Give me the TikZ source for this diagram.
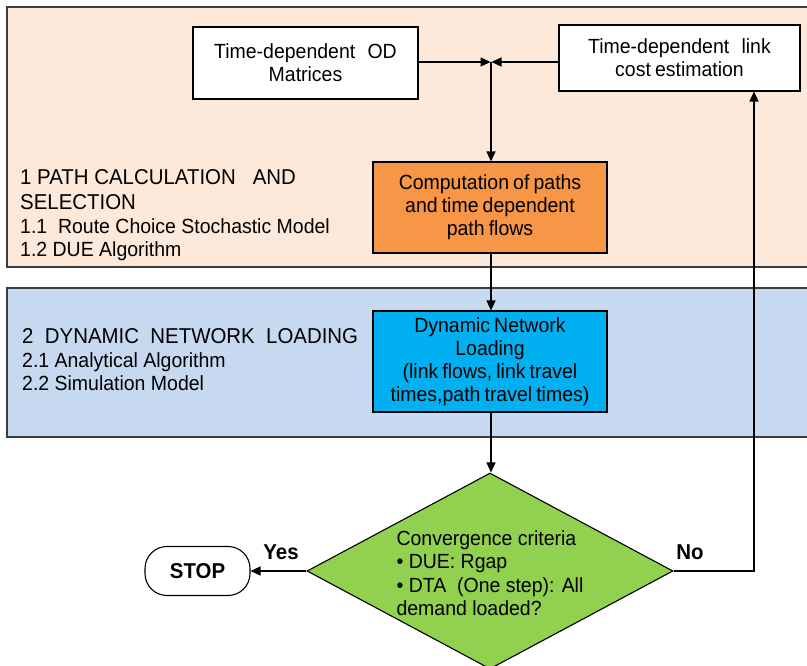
\documentclass[tikz,border=0pt]{standalone}
\usepackage{fontspec}
\setmainfont{Liberation Sans}[FakeStretch=0.95]
\usetikzlibrary{arrows.meta,shapes.geometric}

\definecolor{peach}{HTML}{FDE9D9}
\definecolor{paleblue}{HTML}{C6D9F1}
\definecolor{boxorange}{HTML}{F79646}
\definecolor{boxblue}{HTML}{00B0F0}
\definecolor{boxgreen}{HTML}{92D050}
\definecolor{frame}{HTML}{3C3C3C}

% text sizes: box labels (tight word spacing), captions, sub-items
\newcommand\boxsize{\fontsize{20.5}{23}\selectfont\spaceskip=0.2em plus 0.05em\relax}
\newcommand\headsize{\fontsize{21.5}{24}\selectfont}
\newcommand\subsize{\fontsize{20.5}{23.5}\selectfont}

\begin{document}
\begin{tikzpicture}[x=1pt,y=-1pt,
  panelbox/.style={draw=frame,line width=1.4pt},
  procbox/.style={draw=black,line width=1.1pt,align=center,font=\boxsize,inner sep=0pt},
  flow/.style={draw=black,line width=1.3pt,-{Triangle[length=10pt,width=9pt]}},
  caption/.style={anchor=base west,inner sep=0pt}]

\clip (0,0) rectangle (807,666);
\fill[white] (0,0) rectangle (807,666);

% stage panels (running off the right edge)
\filldraw[panelbox,fill=peach] (7,7) rectangle (840,267);
\filldraw[panelbox,fill=paleblue] (7,288) rectangle (840,437);

% stage captions
\node[caption,font=\headsize] (s1) at (20,185) {1 PATH CALCULATION\ \ \ AND};
\node[caption,font=\headsize] (s1b) at (20,210) {SELECTION};
\node[caption,font=\subsize] (s11) at (20,234) {1.1\ \ Route Choice Stochastic Model};
\node[caption,font=\subsize] (s12) at (20,257) {1.2 DUE Algorithm};
\node[caption,font=\headsize] (s2) at (22,343) {2\ \ DYNAMIC\ \ NETWORK\ \ LOADING};
\node[caption,font=\subsize] (s21) at (22,367) {2.1 Analytical Algorithm};
\node[caption,font=\subsize] (s22) at (22,390) {2.2 Simulation Model};

% process boxes
\node[procbox,fill=white,minimum width=225pt,minimum height=72pt] (od) at (305.5,63)
  {Time-dependent\ \ \ OD\\Matrices};
\node[procbox,fill=white,minimum width=241pt,minimum height=66pt] (link) at (679.5,58)
  {Time-dependent\ \ \ link\\cost estimation};
\node[procbox,fill=boxorange,minimum width=234pt,minimum height=91pt] (comp) at (490,207.5)
  {Computation of paths\\and time dependent\\path flows};
\node[procbox,fill=boxblue,minimum width=234pt,minimum height=101pt] (dnl) at (490,361.5)
  {Dynamic Network\\Loading\\(link flows, link travel\\times,path travel times)};

% decision
\node[diamond,draw=black,line width=1.1pt,fill=boxgreen,minimum width=366pt,
      minimum height=196pt,inner sep=0pt] (conv) at (490,571) {};
\node[align=left,font=\subsize,inner sep=0pt] (convtxt) at (490,573)
  {Convergence criteria\\• DUE: Rgap\\• DTA\ \ (One step): All\\demand loaded?};

\node[draw=black,line width=1.1pt,fill=white,rounded corners=22pt,minimum width=105pt,
      minimum height=49pt,font=\bfseries\headsize] (stop) at (197.5,571) {STOP};
\node[font=\bfseries\headsize,inner sep=0pt] (yes) at (281,552) {Yes};
\node[font=\bfseries\headsize,inner sep=0pt] (no) at (690,552) {No};

% connectors
\coordinate (j) at (491,62);
\coordinate (turn) at (754,571);
\draw[flow] (od.east |- j) -- ([xshift=-0.5pt]j);
\draw[flow] (link.west |- j) -- ([xshift=0.5pt]j);
\draw[flow] (j) -- (comp.north -| j);
\draw[flow] (comp.south -| j) -- (dnl.north -| j);
\draw[flow] (dnl.south -| j) -- (conv.north -| j);
\draw[flow] (conv.west) -- (stop.east);
\draw[flow] (conv.east) -- (turn) -- (turn |- link.south);
\end{tikzpicture}
\end{document}
